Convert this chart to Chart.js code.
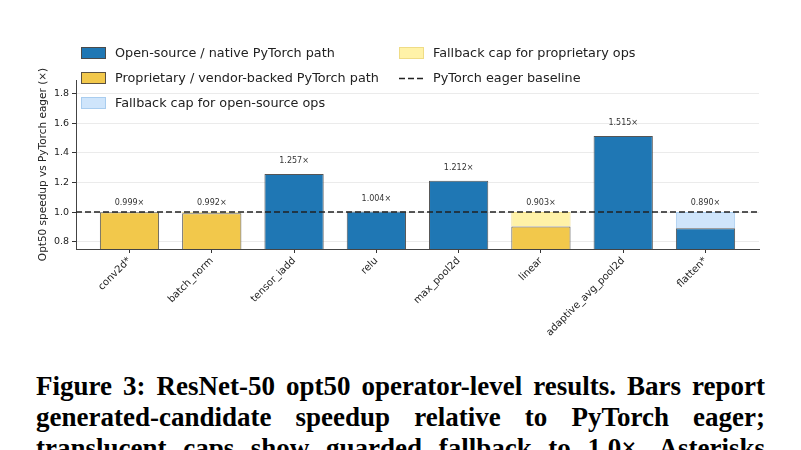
<!DOCTYPE html>
<html>
<head>
<meta charset="utf-8">
<script src="https://cdn.jsdelivr.net/npm/chart.js@4.4.0/dist/chart.umd.min.js"></script>
<style>
  html, body { margin: 0; padding: 0; background: #fff; overflow: hidden; }
  body { width: 801px; height: 450px; position: relative; }
  #plot { position: absolute; left: 0; top: 0; width: 801px; height: 360px; }
  .leg { position: absolute; font: 12.8px 'DejaVu Sans', sans-serif; color: #222; white-space: nowrap; line-height: 16px; }
  .sw { position: absolute; width: 25px; height: 12px; box-sizing: border-box; border: 1px solid; }
  .cap { position: absolute; left: 36px; width: 729px; font: bold 27px 'Liberation Serif', serif; line-height: 31px; color: #000; text-align: justify; text-align-last: justify; }
</style>
</head>
<body>
<div id="plot"><canvas id="grafica"></canvas></div>

<!-- leyenda en dos columnas, como la figura original -->
<div class="sw" style="left:81px;top:47px;background:#1f77b4;border-color:#4a4a4a"></div>
<div class="leg" style="left:115px;top:45px">Open-source / native PyTorch path</div>
<div class="sw" style="left:81px;top:72px;background:#f2c84b;border-color:#5a5040"></div>
<div class="leg" style="left:115px;top:70px">Proprietary / vendor-backed PyTorch path</div>
<div class="sw" style="left:81px;top:97px;background:#cfe5fb;border-color:#a9cdef"></div>
<div class="leg" style="left:115px;top:95px">Fallback cap for open-source ops</div>
<div class="sw" style="left:399px;top:47px;background:#fff2a8;border-color:#efdc86"></div>
<div class="leg" style="left:433px;top:45px">Fallback cap for proprietary ops</div>
<svg style="position:absolute;left:399px;top:76px" width="26" height="5"><line x1="0" y1="2.5" x2="26" y2="2.5" stroke="#222" stroke-width="1.5" stroke-dasharray="6 3"/></svg>
<div class="leg" style="left:433px;top:70px">PyTorch eager baseline</div>

<div class="cap" style="top:371px">Figure 3: ResNet-50 opt50 operator-level results. Bars report</div>
<div class="cap" style="top:402px">generated-candidate speedup relative to PyTorch eager;</div>
<div class="cap" style="top:433px">translucent caps show guarded fallback to 1.0×. Asterisks</div>

<script>
/* ===============================
   DATOS
=============================== */
const categories = ["conv2d*", "batch_norm", "tensor_iadd", "relu", "max_pool2d", "linear", "adaptive_avg_pool2d", "flatten*"];
const speedups   = [0.999, 0.992, 1.257, 1.004, 1.212, 0.903, 1.515, 0.890];
const backend    = ["vendor", "vendor", "open", "open", "open", "vendor", "open", "open"];
const yTicks     = [0.8, 1.0, 1.2, 1.4, 1.6, 1.8];
const baseline   = 1.0;
const yMin = 0.75, yMax = 1.894;
const xLo = -0.65, xHi = categories.length - 1 + 0.65;

/* ===============================
   COLORES
=============================== */
const fill    = { open: "#1f77b4", vendor: "#f2c84b" };
const capFill = { open: "#cfe5fb", vendor: "#fff2a8" };
const capLine = { open: "#a9cdef", vendor: "#efdc86" };

Chart.defaults.font.family = "'DejaVu Sans', sans-serif";
Chart.defaults.color = "#222";

/* etiquetas encima de cada barra */
const barLabels = {
  id: "barLabels",
  afterDatasetsDraw(chart) {
    const { ctx, scales: { x, y } } = chart;
    ctx.save();
    ctx.font = "8px 'DejaVu Sans', sans-serif";
    ctx.fillStyle = "#333";
    ctx.textAlign = "center";
    ctx.textBaseline = "middle";
    speedups.forEach((v, i) => {
      const px = x.getPixelForValue(i);
      const py = y.getPixelForValue(Math.max(v, baseline)) - (v < baseline ? 9 : 13);
      ctx.fillText(v.toFixed(3) + "×", px, py);
    });
    ctx.restore();
  }
};

new Chart(document.getElementById("grafica"), {
  type: "bar",
  data: {
    datasets: [
      {
        type: "line",
        data: [{ x: xLo, y: baseline }, { x: xHi, y: baseline }],
        borderColor: "#222",
        borderWidth: 1.5,
        borderDash: [6, 3],
        pointRadius: 0,
        order: 0
      },
      {
        data: speedups.map((v, i) => ({ x: i, y: v })),
        backgroundColor: backend.map(b => fill[b]),
        borderColor: "#555",
        borderWidth: 1,
        base: yMin,
        grouped: false,
        categoryPercentage: 1,
        barPercentage: 0.72,
        order: 1
      },
      {
        data: speedups.map((v, i) => ({ x: i, y: v < baseline ? [v, baseline] : null })),
        backgroundColor: backend.map(b => capFill[b]),
        borderColor: backend.map(b => capLine[b]),
        borderWidth: 1,
        grouped: false,
        categoryPercentage: 1,
        barPercentage: 0.72,
        order: 2
      }
    ]
  },
  options: {
    animation: false,
    responsive: true,
    maintainAspectRatio: false,
    layout: { padding: { left: 33, right: 42, top: 80, bottom: 0 } },
    plugins: { legend: { display: false }, tooltip: { enabled: false } },
    scales: {
      x: {
        type: "linear",
        min: xLo,
        max: xHi,
        offset: false,
        afterBuildTicks: s => { s.ticks = categories.map((c, i) => ({ value: i })); },
        afterFit: s => { s.height = 111; },
        grid: { offset: false, drawOnChartArea: false, tickColor: "#333", tickLength: 4 },
        border: { color: "#444" },
        ticks: { autoSkip: false, minRotation: 45, maxRotation: 45, padding: 2, font: { size: 10 }, color: "#222", callback: v => categories[v] }
      },
      y: {
        min: yMin,
        max: yMax,
        afterBuildTicks: s => { s.ticks = yTicks.map(v => ({ value: v })); },
        afterFit: s => { s.width = 43; },
        grid: { color: "#ebebeb", tickColor: "#333", tickLength: 4 },
        border: { color: "#444" },
        ticks: { padding: 3, font: { size: 9.5 }, color: "#222", callback: v => v.toFixed(1) },
        title: { display: true, text: "Opt50 speedup vs PyTorch eager (×)", font: { size: 10.5 }, color: "#222", padding: { top: 4, bottom: 0 } }
      }
    }
  },
  plugins: [barLabels]
});
</script>
</body>
</html>
